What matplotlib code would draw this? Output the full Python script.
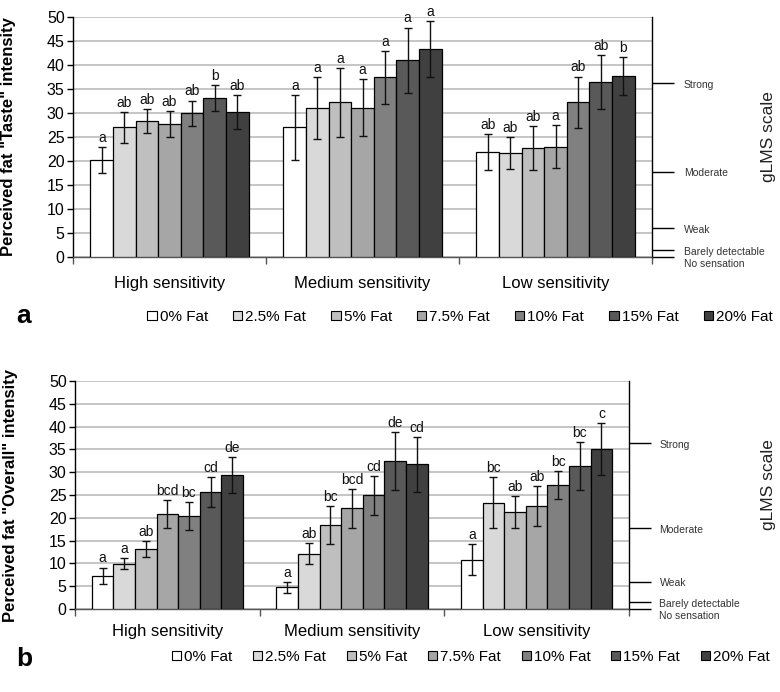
import matplotlib
matplotlib.use("Agg")
import matplotlib.pyplot as plt
import matplotlib.transforms as mtransforms
from matplotlib.patches import Patch
import numpy as np

plt.rcParams['font.family'] = ['Liberation Sans', 'DejaVu Sans']

groups = ['High sensitivity', 'Medium sensitivity', 'Low sensitivity']
fat_levels = ['0% Fat', '2.5% Fat', '5% Fat', '7.5% Fat', '10% Fat', '15% Fat', '20% Fat']
bar_colors = ['#ffffff', '#d9d9d9', '#bfbfbf', '#a6a6a6', '#808080', '#595959', '#404040']

# Panel a: "Taste"
taste_high = [20.3, 27.0, 28.4, 27.7, 29.9, 33.1, 30.2]
taste_med = [27.0, 31.0, 32.2, 31.1, 37.4, 41.0, 43.3]
taste_low = [21.9, 21.7, 22.7, 23.0, 32.2, 36.5, 37.7]
taste_err_high = [2.7, 3.2, 2.5, 2.8, 2.7, 2.7, 3.55]
taste_err_med = [6.8, 6.45, 7.2, 5.9, 5.6, 6.8, 5.9]
taste_err_low = [3.7, 3.3, 4.6, 4.5, 5.4, 5.6, 4.05]
taste_let_high = ['a', 'ab', 'ab', 'ab', 'ab', 'b', 'ab']
taste_let_med = ['a', 'a', 'a', 'a', 'a', 'a', 'a']
taste_let_low = ['ab', 'ab', 'ab', 'a', 'ab', 'ab', 'b']

# Panel b: "Overall"
overall_high = [7.25, 9.9, 13.1, 20.8, 20.4, 25.65, 29.4]
overall_med = [4.75, 12.1, 18.4, 22.1, 24.9, 32.5, 31.7]
overall_low = [10.85, 23.35, 21.3, 22.55, 27.2, 31.4, 35.1]
overall_err_high = [1.85, 1.2, 1.75, 3.1, 3.0, 3.2, 3.95]
overall_err_med = [1.2, 2.3, 4.1, 4.25, 4.25, 6.4, 5.95]
overall_err_low = [3.4, 5.6, 3.45, 4.4, 3.1, 5.3, 5.7]
overall_let_high = ['a', 'a', 'ab', 'bcd', 'bc', 'cd', 'de']
overall_let_med = ['a', 'ab', 'bc', 'bcd', 'cd', 'de', 'cd']
overall_let_low = ['a', 'bc', 'ab', 'ab', 'bc', 'bc', 'c']

glms_labels = ['No sensation', 'Barely detectable', 'Weak', 'Moderate', 'Strong']
glms_values = [0, 1.5, 6.0, 17.8, 36.3]
yticks = list(range(0, 51, 5))

fig = plt.figure(figsize=(7.8, 6.92), dpi=100)
W, H = 780.0, 692.0
ax1 = fig.add_axes([73 / W, 1 - 257 / H, (652 - 73) / W, 240 / H])
ax2 = fig.add_axes([75 / W, 1 - 609 / H, (629 - 75) / W, 228 / H])


def draw_panel(ax, vals, errs, lets, ylabel, label_x, xpad):
    n = len(fat_levels)
    bw = 0.117
    x0 = np.arange(len(groups))
    for i in range(n):
        xs = x0 + (i - (n - 1) / 2) * bw
        v = [vals[g][i] for g in range(len(groups))]
        e = [errs[g][i] for g in range(len(groups))]
        ax.bar(xs, v, width=bw, color=bar_colors[i], edgecolor='black',
               linewidth=0.9, zorder=3)
        ax.errorbar(xs, v, yerr=e, fmt='none', ecolor='#111111',
                    elinewidth=1.0, capsize=3, capthick=1.0, zorder=4)
        for g in range(len(groups)):
            ax.annotate(lets[g][i], (xs[g], v[g] + e[g]), xytext=(0, 1.5),
                        textcoords='offset points', ha='center', va='bottom',
                        fontsize=10, color='#111111', zorder=5)
    ax.set_xlim(-0.5, 2.5)
    ax.set_ylim(0, 50)
    ax.set_yticks(yticks)
    ax.set_yticklabels([str(t) for t in yticks], fontsize=11.5)
    ax.tick_params(axis='y', direction='out', length=4, width=1, pad=2)
    ax.set_xticks(x0)
    ax.set_xticklabels(groups, fontsize=12)
    ax.set_xticks([-0.5, 0.5, 1.5, 2.5], minor=True)
    ax.tick_params(axis='x', which='major', length=0, pad=xpad)
    ax.tick_params(axis='x', which='minor', length=5, width=1, color='#555555',
                   direction='out')
    ax.yaxis.grid(True, color='#c0c0c0', linewidth=1.3, zorder=0)
    ax.set_axisbelow(True)
    ax.spines['top'].set_visible(False)
    ax.spines['left'].set_color('black')
    ax.spines['bottom'].set_color('#555555')
    ax.spines['right'].set_color('black')
    for s in ax.spines.values():
        s.set_linewidth(1.0)
    ax.set_ylabel(ylabel, fontsize=12, fontweight='bold')
    ax.yaxis.set_label_coords(label_x, 0.5, transform=mtransforms.blended_transform_factory(fig.transFigure, ax.transAxes))

    # gLMS scale on the right
    axr = ax.twinx()
    axr.set_ylim(0, 50)
    axr.set_yticks(glms_values)
    axr.set_yticklabels([''] * len(glms_values))
    axr.tick_params(axis='y', direction='out', length=16, width=1, color='black')
    for s in axr.spines.values():
        s.set_visible(False)
    trans = mtransforms.blended_transform_factory(ax.transAxes, ax.transData)
    for lab, val in zip(glms_labels, glms_values):
        if lab == 'No sensation':
            ax.text(1.055, -0.4, lab, transform=trans, ha='left', va='top',
                    fontsize=7.5, color='#333333', clip_on=False)
        else:
            ax.text(1.055, val - 0.4, lab, transform=trans, ha='left', va='center',
                    fontsize=7.5, color='#333333', clip_on=False)


draw_panel(ax1, [taste_high, taste_med, taste_low],
           [taste_err_high, taste_err_med, taste_err_low],
           [taste_let_high, taste_let_med, taste_let_low],
           'Perceived fat "Taste" intensity', 16.5 / W, 13.5)
draw_panel(ax2, [overall_high, overall_med, overall_low],
           [overall_err_high, overall_err_med, overall_err_low],
           [overall_let_high, overall_let_med, overall_let_low],
           'Perceived fat "Overall" intensity', 18.5 / W, 11)

fig.text(768 / W, 1 - 137 / H, 'gLMS scale', rotation=90, ha='center', va='center',
         fontsize=12.5, color='#222222')
fig.text(768 / W, 1 - 485 / H, 'gLMS scale', rotation=90, ha='center', va='center',
         fontsize=12.5, color='#222222')

fig.text(24 / W, 1 - 316 / H, 'a', ha='center', va='center', fontsize=19, fontweight='bold')
fig.text(24 / W, 1 - 659 / H, 'b', ha='center', va='center', fontsize=19, fontweight='bold')

handles = [Patch(facecolor=c, edgecolor='black', linewidth=0.8) for c in bar_colors]
for yc, xc, cs in [(1 - 317 / H, 460 / W, 1.65), (1 - 657 / H, 471 / W, 1.35)]:
    fig.legend(handles, fat_levels, loc='center', bbox_to_anchor=(xc, yc), ncol=7,
               frameon=False, fontsize=11, handlelength=0.6, handleheight=0.6,
               handletextpad=0.2, columnspacing=cs, borderaxespad=0, borderpad=0)

fig.savefig('out.png', dpi=100)
